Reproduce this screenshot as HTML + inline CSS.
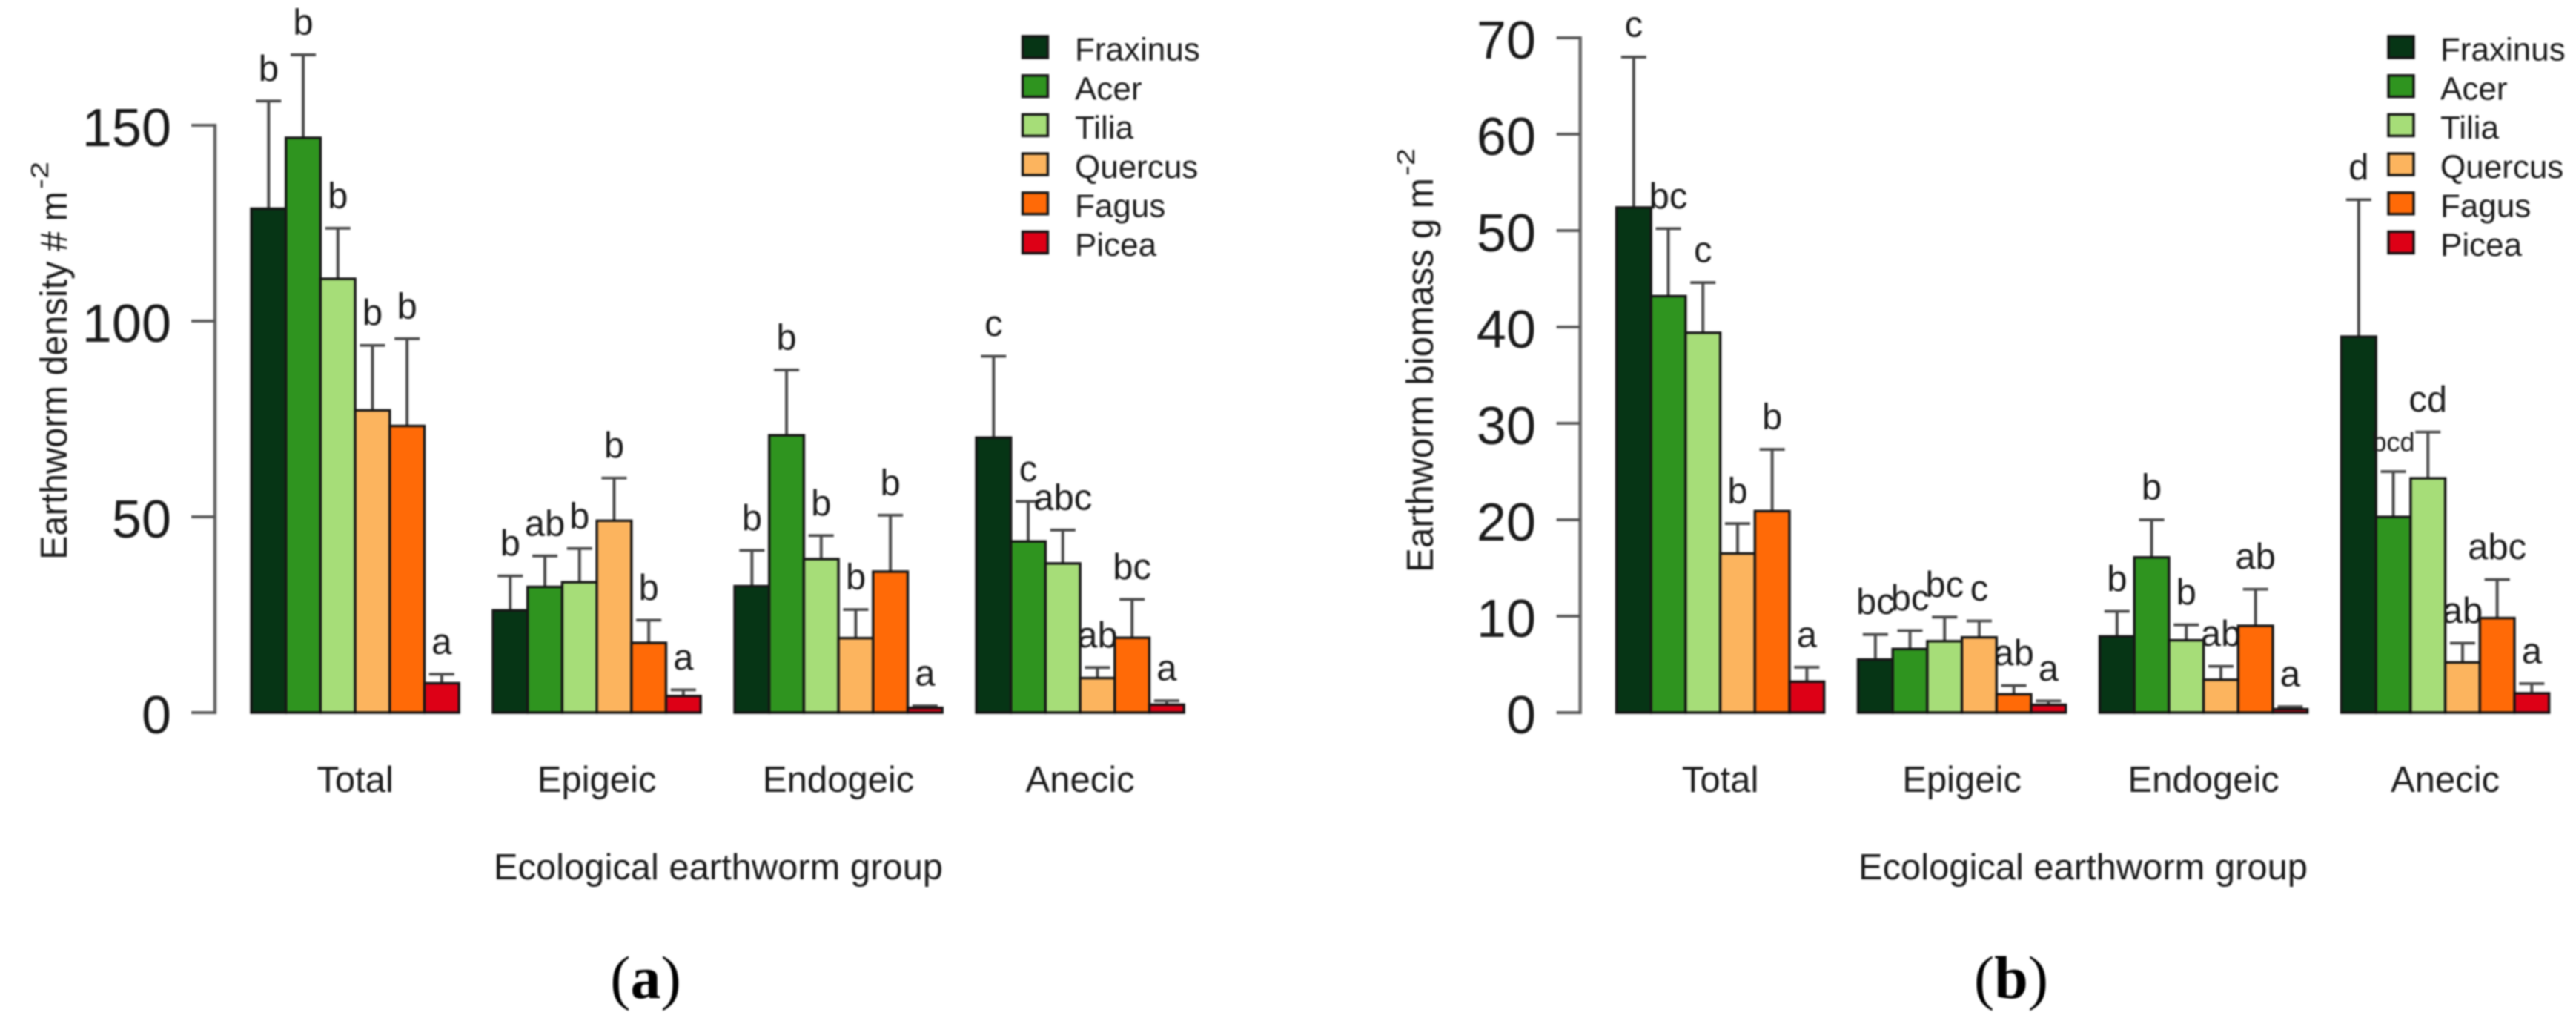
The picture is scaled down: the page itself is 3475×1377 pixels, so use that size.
<!DOCTYPE html>
<html lang="en">
<head>
<meta charset="utf-8">
<title>Earthworm density and biomass by forest species</title>
<style>
html,body{margin:0;padding:0;background:#fff;}
svg{display:block;filter:blur(1.1px);}
text{font-family:"Liberation Sans",sans-serif;fill:#1a1a1a;}
.serif{font-family:"Liberation Serif",serif;fill:#000;}
</style>
</head>
<body>
<svg id="figure" xmlns="http://www.w3.org/2000/svg" width="3475" height="1377" viewBox="0 0 3475 1377">
  <g id="panel-a">
    <text transform="translate(90,755) rotate(-90)" font-size="51" textLength="497" lengthAdjust="spacingAndGlyphs">Earthworm density # m</text>
    <text transform="translate(65,255) rotate(-90)" font-size="33" textLength="37" lengthAdjust="spacingAndGlyphs">-2</text>
    <text x="969" y="1186" font-size="49" text-anchor="middle" textLength="606" lengthAdjust="spacingAndGlyphs">Ecological earthworm group</text>
  </g>
  <g id="panel-b">
    <text transform="translate(1933,772) rotate(-90)" font-size="51" textLength="532" lengthAdjust="spacingAndGlyphs">Earthworm biomass g m</text>
    <text transform="translate(1908,237) rotate(-90)" font-size="33" textLength="37" lengthAdjust="spacingAndGlyphs">-2</text>
    <text x="2810" y="1186" font-size="49" text-anchor="middle" textLength="606" lengthAdjust="spacingAndGlyphs">Ecological earthworm group</text>
  </g>
  <text class="serif" x="871" y="1346" font-size="82" text-anchor="middle">(<tspan font-weight="bold">a</tspan>)</text>
  <text class="serif" x="2713" y="1346" font-size="82" text-anchor="middle">(<tspan font-weight="bold">b</tspan>)</text>
</svg>
<script>
const groups = ['Total', 'Epigeic', 'Endogeic', 'Anecic'];
const species = ['Fraxinus', 'Acer', 'Tilia', 'Quercus', 'Fagus', 'Picea'];
const speciesColors = ['#063515', '#2f941f', '#a6dd78', '#fcb45e', '#ff6a07', '#dd0016'];

const densityTicks = [0, 50, 100, 150];
const densityMeans = [
  [128.7, 146.8, 110.8, 77.2, 73.2, 7.5],
  [26.1, 32.1, 33.3, 49, 17.8, 4.2],
  [32.3, 70.8, 39.2, 19, 36, 1.2],
  [70.2, 43.7, 38.1, 8.8, 19.1, 2]
];
const densityUpper = [
  [156.2, 168, 123.7, 93.8, 95.5, 9.8],
  [34.9, 40, 41.9, 59.9, 23.6, 5.8],
  [41.4, 87.5, 45.2, 26.3, 50.4, 1.7],
  [91, 53.9, 46.6, 11.5, 28.9, 3]
];
const densityLetters = [
  ['b', 'b', 'b', 'b', 'b', 'a'],
  ['b', 'ab', 'b', 'b', 'b', 'a'],
  ['b', 'b', 'b', 'b', 'b', 'a'],
  ['c', 'c', 'abc', 'ab', 'bc', 'a']
];

const biomassTicks = [0, 10, 20, 30, 40, 50, 60, 70];
const biomassMeans = [
  [52.4, 43.2, 39.4, 16.5, 20.9, 3.2],
  [5.5, 6.6, 7.4, 7.8, 1.9, 0.8],
  [7.9, 16.1, 7.5, 3.4, 9, 0.35],
  [39, 20.3, 24.3, 5.2, 9.8, 2]
];
const biomassUpper = [
  [68, 50.2, 44.6, 19.6, 27.3, 4.7],
  [8.1, 8.5, 9.9, 9.5, 2.8, 1.2],
  [10.5, 20, 9.1, 4.8, 12.8, 0.6],
  [53.2, 25, 29.1, 7.2, 13.8, 3]
];
const biomassLetters = [
  ['c', 'bc', 'c', 'b', 'b', 'a'],
  ['bc', 'bc', 'bc', 'c', 'ab', 'a'],
  ['b', 'b', 'b', 'ab', 'ab', 'a'],
  ['d', 'bcd', 'cd', 'ab', 'abc', 'a']
];

const SVGNS = 'http://www.w3.org/2000/svg';
const BAR_W = 46.7;
const GROUP_STEP = 326;

function make(parent, tag, attrs, content) {
  const el = document.createElementNS(SVGNS, tag);
  for (const k in attrs) el.setAttribute(k, attrs[k]);
  if (content !== undefined) el.textContent = content;
  parent.appendChild(el);
  return el;
}

function drawPanel(cfg) {
  const root = document.getElementById(cfg.id);
  const yScale = function (v) { return cfg.y0 - v * cfg.pxPerUnit; };
  const barX = function (g, s) { return cfg.x0 + g * GROUP_STEP + s * BAR_W; };
  const topTick = cfg.ticks[cfg.ticks.length - 1];

  const axis = make(root, 'line', { x1: cfg.axisX, x2: cfg.axisX, y1: yScale(topTick) - 2, y2: yScale(0) + 2, stroke: '#666', 'stroke-width': 4.5 });
  
  

  cfg.ticks.forEach(function (t) {
    const tick = make(root, 'line', { x1: cfg.tickX, x2: cfg.axisX, y1: yScale(t), y2: yScale(t), stroke: '#555', 'stroke-width': 3.8 });
    
    
    const lab = make(root, 'text', { x: cfg.labelX, y: yScale(t) + 28, 'font-size': 72, 'text-anchor': 'end' }, String(t));
    
    
  });

  groups.forEach(function (name, g) {
    const label = make(root, 'text', { x: barX(g, 3), y: 1068, 'font-size': 49, 'text-anchor': 'middle' }, name);
    
    

    species.forEach(function (sp, s) {
      const mean = cfg.means[g][s];
      const upper = cfg.upper[g][s];
      const cx = barX(g, s) + BAR_W / 2;

      const stem = make(root, 'line', { x1: cx, x2: cx, y1: yScale(upper), y2: yScale(mean), stroke: '#4a4a4a', 'stroke-width': 4 });
      
      
      const cap = make(root, 'line', { x1: cx - 17, x2: cx + 17, y1: yScale(upper), y2: yScale(upper), stroke: '#4a4a4a', 'stroke-width': 3.8 });
      
      

      const bar = make(root, 'rect', { x: barX(g, s), y: yScale(mean), width: BAR_W, height: cfg.y0 - yScale(mean), fill: speciesColors[s], stroke: '#151515', 'stroke-width': 3.4 });
      
      
    });
  });

  groups.forEach(function (name, g) {
    species.forEach(function (sp, s) {
      const letter = cfg.letters[g][s];
      const sig = make(root, 'text', { x: barX(g, s) + BAR_W / 2, y: yScale(cfg.upper[g][s]) - 27.5, 'font-size': letter === 'bcd' ? 36 : 49, 'text-anchor': 'middle' }, letter);
      
      
    });
  });

  species.forEach(function (sp, s) {
    const swatch = make(root, 'rect', { x: cfg.legendX, y: 49 + s * 52.7, width: 34, height: 29, fill: speciesColors[s], stroke: '#151515', 'stroke-width': 3.4 });
    
    
    const txt = make(root, 'text', { x: cfg.legendTextX, y: 81.7 + s * 52.7, 'font-size': 44 }, sp);
    
    
  });
}

drawPanel({ id: 'panel-a', x0: 339, y0: 961, pxPerUnit: 5.28, axisX: 290, tickX: 258, labelX: 231, ticks: densityTicks, means: densityMeans, upper: densityUpper, letters: densityLetters, legendX: 1379.5, legendTextX: 1450 });
drawPanel({ id: 'panel-b', x0: 2180.5, y0: 961, pxPerUnit: 13, axisX: 2131.7, tickX: 2099.7, labelX: 2072, ticks: biomassTicks, means: biomassMeans, upper: biomassUpper, letters: biomassLetters, legendX: 3222, legendTextX: 3292 });
</script>
</body>
</html>
